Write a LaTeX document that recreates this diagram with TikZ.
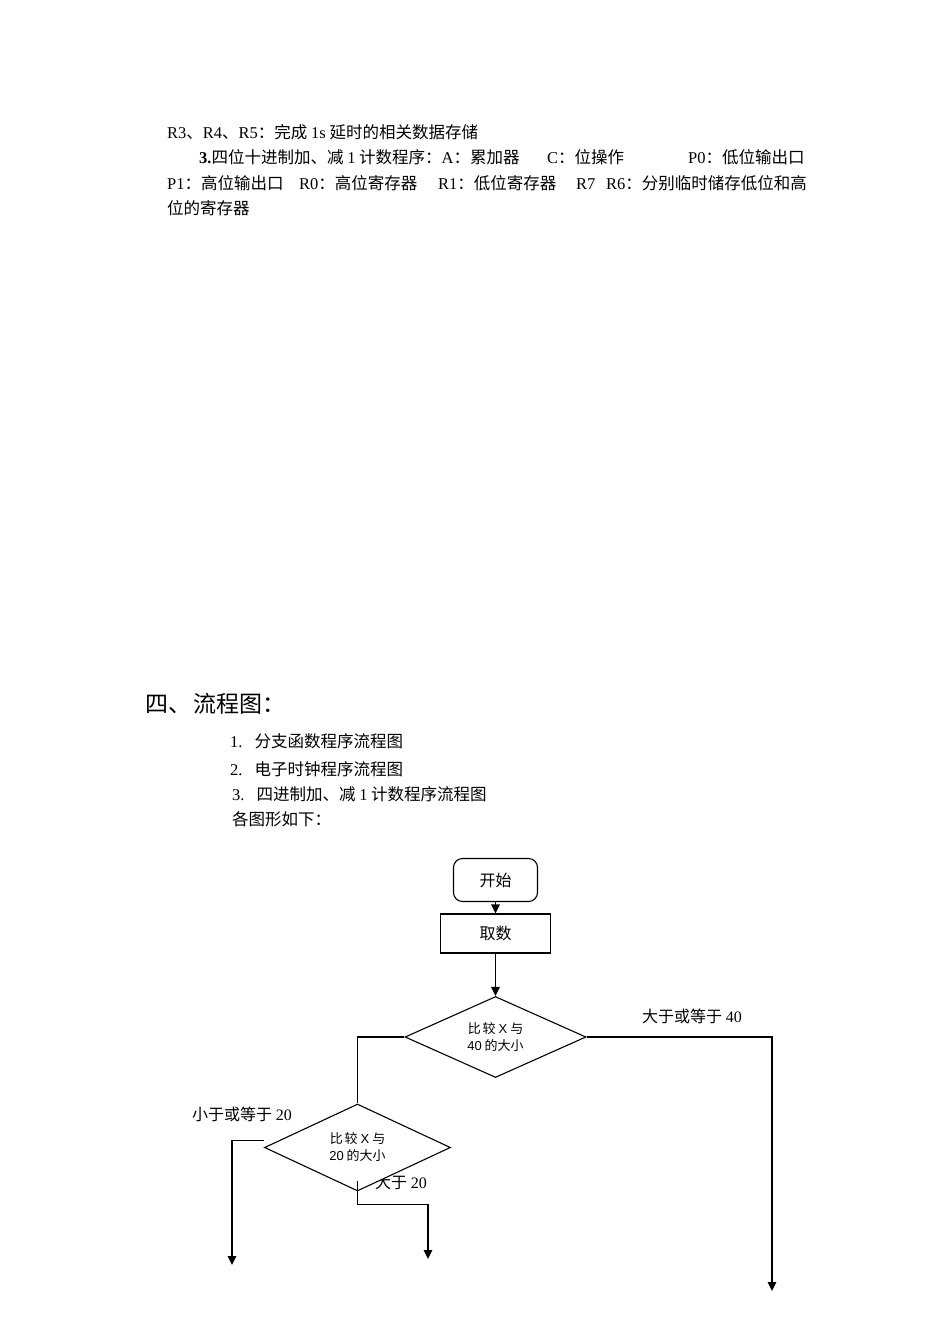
\documentclass[tikz,border=0pt]{standalone}
\usepackage{fontspec}
\setmainfont{Noto Sans CJK SC}
\newfontfamily\lat{Liberation Serif}
\newfontfamily\latsans{Liberation Sans}
\usetikzlibrary{shapes.geometric,arrows.meta}
\begin{document}
\begin{tikzpicture}[x=1pt,y=-1pt,
  txt/.style={anchor=west,inner sep=0pt,font=\fontsize{16.5}{20}\selectfont,text height=14.5pt,text depth=2pt},
  head/.style={anchor=west,inner sep=0pt,font=\fontsize{23}{27}\selectfont,text height=20.2pt,text depth=2.8pt},
  lbl/.style={anchor=west,inner sep=0pt,font=\fontsize{16}{20}\selectfont,text height=14pt,text depth=2pt},
  term/.style={draw,line width=1.1pt,rounded corners=9pt,minimum width=84pt,minimum height=43pt,inner sep=0pt,font=\fontsize{16}{20}\selectfont},
  proc/.style={draw,line width=1.1pt,minimum width=110pt,minimum height=39pt,inner sep=0pt,font=\fontsize{16}{20}\selectfont},
  dia/.style={draw,fill=white,line width=1.1pt,diamond,shape aspect=2.2,inner sep=0pt,align=center,font=\fontsize{13}{17}\selectfont},
  ln/.style={line width=1.2pt},
  arr/.style={line width=1.2pt,-{Triangle[length=9pt,width=8.5pt]}}]
\fill[white] (0,0) rectangle (950,1344);
\useasboundingbox (0,0) rectangle (950,1344);
% top text
\node[txt] (t1) at (167,132) {{\lat R3}、{\lat R4}、{\lat R5}：完成 {\lat 1s} 延时的相关数据存储};
\node[txt] (t2a) at (199,157) {{\lat\bfseries 3.}四位十进制加、减 {\lat 1} 计数程序：{\lat A}：累加器};
\node[txt] (t2b) at (547,157) {{\lat C}：位操作};
\node[txt] (t2c) at (688,157) {{\lat P0}：低位输出口};
\node[txt] (t3a) at (167,183) {{\lat P1}：高位输出口};
\node[txt] (t3b) at (299,183) {{\lat R0}：高位寄存器};
\node[txt] (t3c) at (438,183) {{\lat R1}：低位寄存器};
\node[txt] (t3d) at (576,183) {{\lat R7}};
\node[txt] (t3e) at (606,183) {{\lat R6}：分别临时储存低位和高};
\node[txt] (t4) at (167,208) {位的寄存器};
% heading
\node[head] (h) at (145,704) {四、\hspace{2pt}流程图：};
\node[txt] (i1) at (230,741) {{\lat 1.}\hspace{12pt}分支函数程序流程图};
\node[txt] (i2) at (230,769) {{\lat 2.}\hspace{12pt}电子时钟程序流程图};
\node[txt] (i3) at (232,794) {{\lat 3.}\hspace{12pt}四进制加、减 {\lat 1} 计数程序流程图};
\node[txt] (i4) at (232,819) {各图形如下：};
% flowchart
\node[term] (start) at (495.5,880) {开始};
\node[proc] (get) at (495.5,933.5) {取数};
\node[dia,minimum width=181pt,minimum height=81pt] (d1) at (495.5,1037) {比\hspace{2pt}较 {\latsans X} 与\\{\latsans 40} 的大小};
\node[lbl] (l40) at (642,1016) {大于或等于 {\lat 40}};
\node[lbl] (l20a) at (192,1114) {小于或等于 {\lat 20}};
\node[lbl] (l20b) at (375,1182) {大于 {\lat 20}};
\node[dia,minimum width=186pt,minimum height=87pt] (d2) at (357.5,1147.5) {比\hspace{2pt}较 {\latsans X} 与\\{\latsans 20} 的大小};
\coordinate (e1) at (772,1291);
\coordinate (e2) at (232,1265);
\coordinate (e3) at (428,1259);
\draw[arr] (start) -- (get);
\draw[arr] (get) -- (d1);
\draw[arr] (d1.east) -| (e1);
\draw[ln] (d1.west) -| (d2.north);
\draw[arr] ([yshift=7pt]d2.west) -| (e2);
\draw[arr] ([yshift=11pt]d2.south) -- ++(0,24) -| (e3);
\end{tikzpicture}
\end{document}
